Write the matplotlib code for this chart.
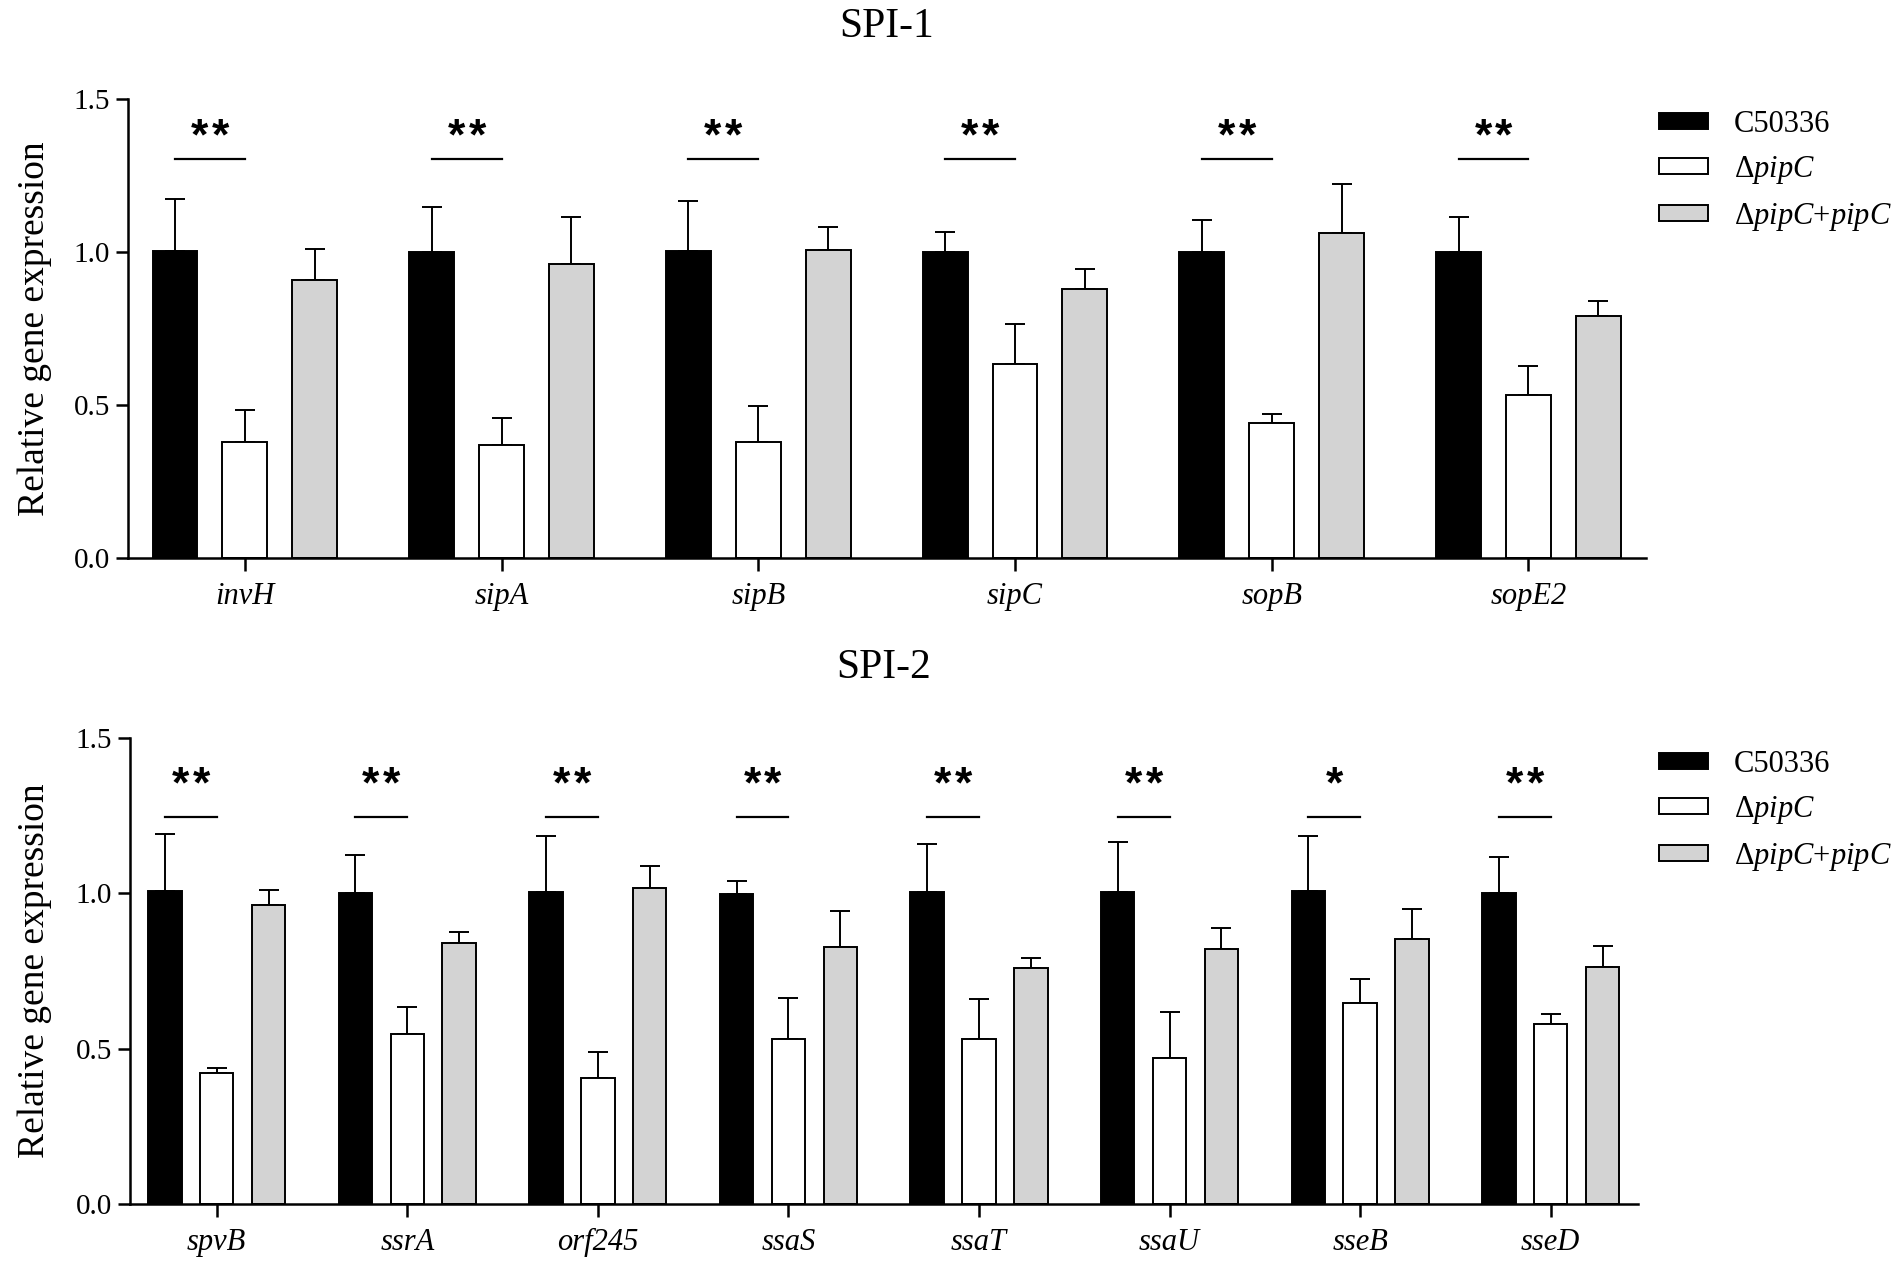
import matplotlib
matplotlib.use("Agg")
import matplotlib.pyplot as plt
import numpy as np

plt.rcParams['font.family'] = ['Liberation Serif', 'DejaVu Serif']

# SPI-1 genes
spi1_genes = ['invH', 'sipA', 'sipB', 'sipC', 'sopB', 'sopE2']
spi1_wt = [1.005, 1.0, 1.005, 1.0, 1.0, 1.0]
spi1_wt_err = [0.17, 0.148, 0.162, 0.067, 0.104, 0.115]
spi1_mut = [0.38, 0.37, 0.38, 0.633, 0.441, 0.534]
spi1_mut_err = [0.103, 0.087, 0.117, 0.133, 0.029, 0.095]
spi1_comp = [0.91, 0.961, 1.008, 0.879, 1.064, 0.793]
spi1_comp_err = [0.102, 0.155, 0.076, 0.065, 0.159, 0.049]
spi1_sig = ['**', '**', '**', '**', '**', '**']

# SPI-2 genes
spi2_genes = ['spvB', 'ssrA', 'orf245', 'ssaS', 'ssaT', 'ssaU', 'sseB', 'sseD']
spi2_wt = [1.007, 1.001, 1.006, 0.998, 1.004, 1.005, 1.007, 1.001]
spi2_wt_err = [0.183, 0.123, 0.178, 0.043, 0.155, 0.162, 0.177, 0.116]
spi2_mut = [0.422, 0.546, 0.406, 0.532, 0.530, 0.469, 0.647, 0.581]
spi2_mut_err = [0.016, 0.090, 0.085, 0.132, 0.129, 0.148, 0.078, 0.031]
spi2_comp = [0.963, 0.840, 1.017, 0.827, 0.759, 0.822, 0.852, 0.763]
spi2_comp_err = [0.048, 0.037, 0.073, 0.118, 0.034, 0.067, 0.098, 0.069]
spi2_sig = ['**', '**', '**', '**', '**', '**', '*', '**']

strains = ['C50336', 'Δ$\\mathit{pipC}$', 'Δ$\\mathit{pipC}$+$\\mathit{pipC}$']
colors = ['black', 'white', '#d3d3d3']

plt.rcParams['mathtext.fontset'] = 'custom'
plt.rcParams['mathtext.rm'] = 'Liberation Serif'
plt.rcParams['mathtext.it'] = 'Liberation Serif:italic'

W, H = 1902, 1272
fig = plt.figure(figsize=(W / 100, H / 100), dpi=100)

STAR_FS = 32


def px_axes(left, right, top, bottom):
    return fig.add_axes([left / W, 1 - bottom / H, (right - left) / W, (bottom - top) / H])


def draw_panel(ax, genes, wt, wt_err, mut, mut_err, comp, comp_err, sig,
               line_y, star_y, title, title_y, leg_y):
    x = np.arange(len(genes))
    off = 0.272
    width = 0.175
    groups = [(wt, wt_err), (mut, mut_err), (comp, comp_err)]
    for i, (vals, errs) in enumerate(groups):
        pos = x + (i - 1) * off
        ax.bar(pos, vals, width, color=colors[i], edgecolor='black',
               linewidth=1.4, label=strains[i], zorder=2)
        ax.errorbar(pos, vals, yerr=[np.zeros(len(vals)), errs], fmt='none',
                    ecolor='black', elinewidth=1.4, capsize=7.5, capthick=1.4,
                    zorder=1)
    for xi, s in zip(x, sig):
        ax.plot([xi - off, xi], [line_y, line_y], color='black', lw=1.6)
        n = len(s)
        for k, ch in enumerate(s):
            dx = (k - (n - 1) / 2) * 15
            ax.annotate(ch, xy=(xi - off / 2, star_y), xytext=(dx, -0.41 * STAR_FS),
                        textcoords='offset points', ha='center', va='baseline',
                        fontsize=STAR_FS, fontweight='bold', family='Liberation Sans')

    ax.set_xlim(-0.455, len(genes) - 1 + 0.458)
    ax.set_ylim(0, 1.5)
    ax.set_yticks([0.0, 0.5, 1.0, 1.5])
    ax.set_yticklabels(['0.0', '0.5', '1.0', '1.5'])
    ax.set_xticks(x)
    ax.set_xticklabels(genes, fontstyle='italic')
    for sp in ['top', 'right']:
        ax.spines[sp].set_visible(False)
    for sp in ['left', 'bottom']:
        ax.spines[sp].set_linewidth(1.8)
    ax.tick_params(axis='y', labelsize=21, length=9, width=1.8, pad=4)
    ax.tick_params(axis='x', labelsize=22, length=9, width=1.8, pad=8)

    pos = ax.get_position()
    cx = (pos.x0 + pos.x1) / 2
    fig.text(cx, 1 - title_y / H, title, ha='center', va='center', fontsize=30)
    fig.text(35 / W, (pos.y0 + pos.y1) / 2, 'Relative gene expression',
             rotation=90, ha='center', va='center', fontsize=27)

    ax.legend(loc='upper left', bbox_to_anchor=(1659 / W, 1 - leg_y / H),
              bbox_transform=fig.transFigure, frameon=False, fontsize=22,
              handlelength=1.6, handleheight=0.4, handletextpad=0.85,
              labelspacing=0.49, borderpad=0, borderaxespad=0)


ax1 = px_axes(128, 1646, 99.3, 558)
draw_panel(ax1, spi1_genes, spi1_wt, spi1_wt_err, spi1_mut, spi1_mut_err,
           spi1_comp, spi1_comp_err, spi1_sig, 1.305, 1.396, 'SPI-1', 27, 110)

ax2 = px_axes(130, 1638, 738.2, 1204)
draw_panel(ax2, spi2_genes, spi2_wt, spi2_wt_err, spi2_mut, spi2_mut_err,
           spi2_comp, spi2_comp_err, spi2_sig, 1.245, 1.369, 'SPI-2', 668, 750)

fig.savefig('out.png', dpi=100)
